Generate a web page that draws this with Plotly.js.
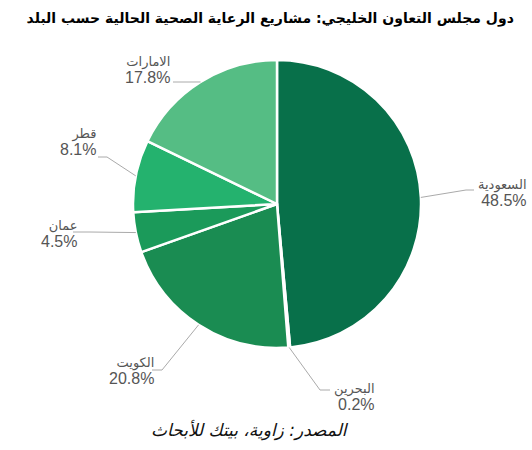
<!DOCTYPE html>
<html>
<head>
<meta charset="utf-8">
<script src="https://cdn.plot.ly/plotly-3.0.1.min.js"></script>
<style>html,body{margin:0;padding:0;background:#fff;}#chart{width:532px;height:450px;}</style>
</head>
<body>
<div id="chart"></div>
<script>
// ---- data ----
const countries = ["السعودية", "البحرين", "الكويت", "عمان", "قطر", "الامارات"];
const shares = [48.5, 0.2, 20.8, 4.5, 8.1, 17.8];
const pctLabels = ["48.5%", "0.2%", "20.8%", "4.5%", "8.1%", "17.8%"];
const colors = ["#08704a", "#0f7a4a", "#1a8c52", "#1b9a5a", "#24b26e", "#55bd84"];
const titleText = "دول مجلس التعاون الخليجي: مشاريع الرعاية الصحية الحالية حسب البلد";
const sourceText = "المصدر: زاوية، بيتك للأبحاث";

// ---- layout constants (pixels) ----
const W = 532, H = 450;
const CX = 277, CY = 204, R = 144;
// leader-line geometry per label: elbow, end of horizontal segment, text side and block centre
const elbows = [[466,190],[320,390],[162,370],[90,232],[107,157],[190,82]];
const ends   = [[474,190],[330,390],[152,370],[73,232],[98,157],[173,82]];
const textPos = [[476,193,"left"],[332,397,"left"],[156,371,"right"],[79,234,"right"],[98,142,"right"],[172,70,"right"]];

const px = x => x / W;
const py = y => 1 - y / H;

const total = shares.reduce((a,b)=>a+b,0);
let cum = 0;
const shapes = [], annotations = [];
const font = {family: "Liberation Sans, Arial, DejaVu Sans, sans-serif", size: 13, color: "#555"};
shares.forEach((v,i) => {
  const mid = (cum + v/2) / total * 2 * Math.PI;
  cum += v;
  const ex = CX + R * Math.sin(mid), ey = CY - R * Math.cos(mid);
  const [bx,by] = elbows[i], [fx,fy] = ends[i];
  const lineStyle = {color: "#aaa", width: 1};
  shapes.push({type:"line", xref:"paper", yref:"paper", x0:px(ex), y0:py(ey), x1:px(bx), y1:py(by), line: lineStyle});
  shapes.push({type:"line", xref:"paper", yref:"paper", x0:px(bx), y0:py(by), x1:px(fx), y1:py(fy), line: lineStyle});
  const [tx,ty,side] = textPos[i];
  annotations.push({
    xref:"paper", yref:"paper", x:px(tx), y:py(ty), xanchor:side, yanchor:"middle",
    text: countries[i] + "<br><span style='font-size:16px'>" + pctLabels[i] + "</span>",
    showarrow:false, align:"right", font: font
  });
});

annotations.push({
  xref:"paper", yref:"paper", x:px(250), y:py(430), xanchor:"center", yanchor:"middle",
  text:"<i>" + sourceText + "</i>", showarrow:false,
  font:{family:"DejaVu Sans, Liberation Sans, sans-serif", size:17, color:"#111"}
});

const data = [{
  type:"pie",
  labels: countries,
  values: shares,
  sort:false,
  direction:"clockwise",
  rotation:0,
  textinfo:"none",
  hoverinfo:"label+percent",
  marker:{colors: colors, line:{color:"#fff", width:2.5}},
  domain:{x:[px(CX-R), px(CX+R)], y:[py(CY+R), py(CY-R)]},
  showlegend:false
}];

const layout = {
  width: W, height: H,
  margin:{l:0,r:0,t:0,b:0},
  paper_bgcolor:"#fff",
  title:{text:"<b>"+titleText+"</b>", x:0.508, xanchor:"center", y:1-18/H, yanchor:"middle",
         font:{family:"DejaVu Sans, Liberation Sans, sans-serif", size:14, color:"#000"}},
  shapes: shapes,
  annotations: annotations,
  showlegend:false
};

Plotly.newPlot("chart", data, layout, {displayModeBar:false, staticPlot:true});
</script>
</body>
</html>
